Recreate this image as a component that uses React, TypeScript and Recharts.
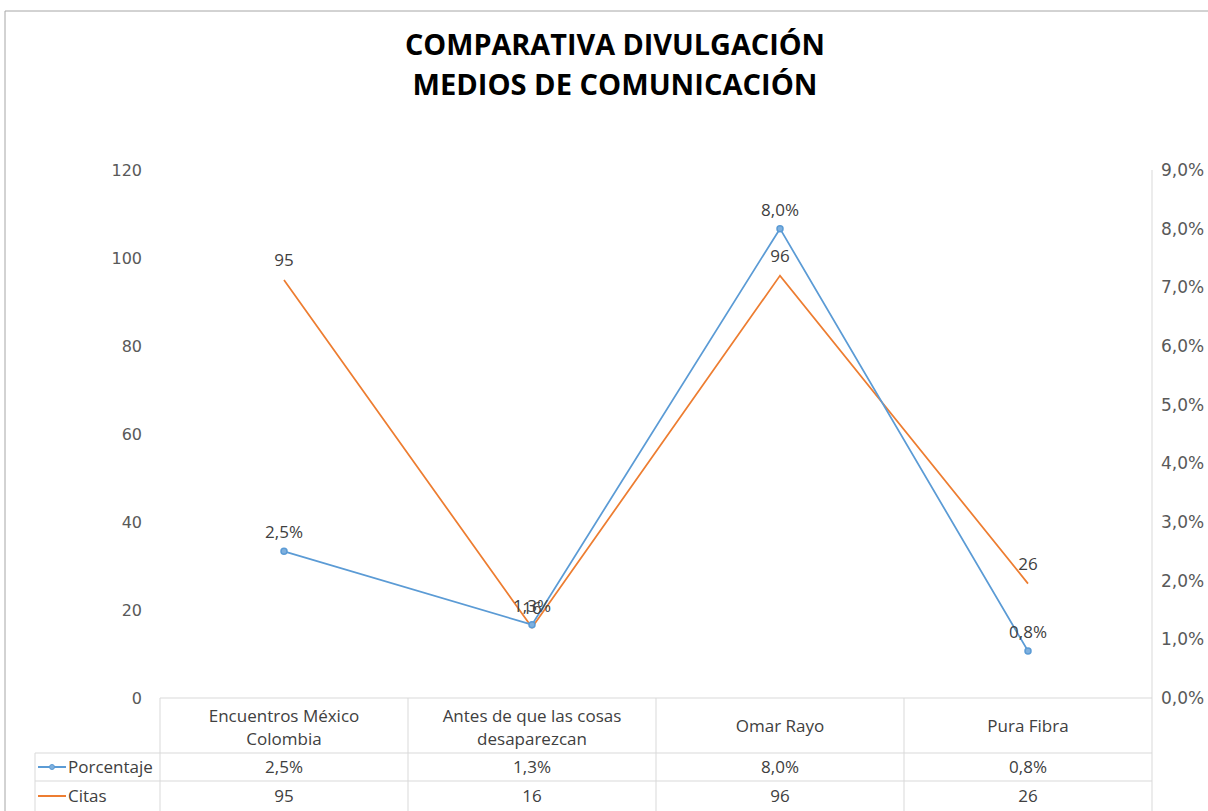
import React from "react";
import { LineChart, Line, XAxis, YAxis, LabelList } from "recharts";

const categories = [
  "Encuentros México Colombia",
  "Antes de que las cosas desaparezcan",
  "Omar Rayo",
  "Pura Fibra",
];
const porcentaje = [0.025, 0.0125, 0.08, 0.008];
const citas = [95, 16, 96, 26];
const leftTicks = [0, 20, 40, 60, 80, 100, 120];
const rightTicks = [0, 0.01, 0.02, 0.03, 0.04, 0.05, 0.06, 0.07, 0.08, 0.09];

const data = categories.map((name, i) => ({
  name,
  porcentaje: porcentaje[i],
  citas: citas[i],
}));

const W = 1208;
const H = 811;
const PLOT_L = 160;
const PLOT_R = 1152;
const BW = (PLOT_R - PLOT_L) / categories.length;
const BLUE = "#5b9bd5";
const ORANGE = "#ed7d31";
const GRID = "#d9d9d9";
const TXT = "#404040";
const FONT = "'Open Sans', sans-serif";
const CELL_FS = 17;

const fmtPct = (v: number) => (v * 100).toFixed(1).replace(".", ",") + "%";

// simple word wrap for the header cells
function wrap(s: string, max = 22) {
  const out: string[] = [];
  let cur = "";
  s.split(" ").forEach((w) => {
    if (cur && (cur + " " + w).length > max) {
      out.push(cur);
      cur = w;
    } else cur = cur ? cur + " " + w : w;
  });
  if (cur) out.push(cur);
  return out;
}

function TableTick(props: any) {
  const { x, y, index, payload } = props;
  const left = x - BW / 2;
  const right = x + BW / 2;
  const r1 = y + 55;
  const r2 = y + 83;
  const bottom = H;
  const lines = wrap(String(payload.value));
  const cell = { fontFamily: FONT, fontSize: CELL_FS, fill: TXT, textAnchor: "middle" as const };
  return (
    <g>
      {index === 0 && (
        <g>
          <line x1={left} y1={y} x2={left} y2={bottom} stroke={GRID} />
          <line x1={35} y1={r1} x2={left} y2={r1} stroke={GRID} />
          <line x1={35} y1={r2} x2={left} y2={r2} stroke={GRID} />
          <line x1={35} y1={r1} x2={35} y2={bottom} stroke={GRID} />
          <line x1={38} y1={r1 + 14} x2={66} y2={r1 + 14} stroke={BLUE} strokeWidth={2} />
          <circle cx={52} cy={r1 + 14} r={2.5} fill="#7fb0de" stroke={BLUE} />
          <text x={68} y={r1 + 20} fontFamily={FONT} fontSize={CELL_FS} fill={TXT}>
            Porcentaje
          </text>
          <line x1={38} y1={r2 + 15} x2={66} y2={r2 + 15} stroke={ORANGE} strokeWidth={2} />
          <text x={68} y={r2 + 21} fontFamily={FONT} fontSize={CELL_FS} fill={TXT}>
            Citas
          </text>
        </g>
      )}
      <line x1={right} y1={y} x2={right} y2={bottom} stroke={GRID} />
      <line x1={left} y1={r1} x2={right} y2={r1} stroke={GRID} />
      <line x1={left} y1={r2} x2={right} y2={r2} stroke={GRID} />
      {lines.length === 1 ? (
        <text x={x} y={y + 34} {...cell}>
          {lines[0]}
        </text>
      ) : (
        lines.map((l, i) => (
          <text key={i} x={x} y={y + 24 + i * 23} {...cell}>
            {l}
          </text>
        ))
      )}
      <text x={x} y={r1 + 20} {...cell}>
        {fmtPct(porcentaje[index])}
      </text>
      <text x={x} y={r2 + 21} {...cell}>
        {citas[index]}
      </text>
    </g>
  );
}

export default function App() {
  return (
    <div style={{ position: "absolute", left: 0, top: 0, width: W, height: H, background: "#fff", overflow: "hidden" }}>
      <LineChart
        width={W}
        height={H}
        data={data}
        margin={{ top: 170, right: 0, bottom: 0, left: 100 }}
      >
        <XAxis
          dataKey="name"
          height={113}
          tickSize={0}
          tickMargin={0}
          tickLine={false}
          axisLine={{ stroke: GRID }}
          tick={<TableTick />}
          interval={0}
          padding={{ left: BW / 2, right: BW / 2 }}
        />
        <YAxis
          yAxisId="left"
          width={60}
          domain={[0, 120]}
          ticks={leftTicks}
          axisLine={false}
          tickLine={false}
          tickSize={0}
          tickMargin={18}
          tick={{ fill: "#595959", fontSize: 16, fontFamily: "'DejaVu Sans', sans-serif" }}
        />
        <YAxis
          yAxisId="right"
          orientation="right"
          width={56}
          domain={[0, 0.09]}
          ticks={rightTicks}
          tickFormatter={fmtPct}
          axisLine={{ stroke: GRID }}
          tickLine={false}
          tickSize={0}
          tickMargin={9}
          tick={{ fill: "#595959", fontSize: 17, fontFamily: "'DejaVu Sans', sans-serif", textAnchor: "start" }}
        />
        <Line
          yAxisId="left"
          dataKey="citas"
          stroke={ORANGE}
          strokeWidth={1.75}
          dot={false}
          isAnimationActive={false}
        >
          <LabelList dataKey="citas" position="top" offset={14} fill={TXT} fontSize={17} fontFamily={FONT} />
        </Line>
        <Line
          yAxisId="right"
          dataKey="porcentaje"
          stroke={BLUE}
          strokeWidth={1.75}
          dot={{ r: 3, fill: "#7fb0de", stroke: BLUE, strokeWidth: 1.5 }}
          isAnimationActive={false}
        >
          <LabelList
            dataKey="porcentaje"
            position="top"
            offset={13}
            fill={TXT}
            fontSize={17}
            fontFamily={FONT}
            formatter={(v: any) => fmtPct(Number(v))}
          />
        </Line>
      </LineChart>
      <svg width={W} height={H} style={{ position: "absolute", left: 0, top: 0, pointerEvents: "none" }}>
        <line x1={5} y1={11} x2={W} y2={11} stroke="#a6a6a6" />
        <line x1={5} y1={11} x2={5} y2={H} stroke="#a6a6a6" />
        <text x={615} y={55} textAnchor="middle" fontFamily={FONT} fontWeight="bold" fontSize={28} fill="#000" textLength={420} lengthAdjust="spacingAndGlyphs">
          COMPARATIVA DIVULGACIÓN
        </text>
        <text x={615} y={95} textAnchor="middle" fontFamily={FONT} fontWeight="bold" fontSize={28} fill="#000" textLength={405} lengthAdjust="spacingAndGlyphs">
          MEDIOS DE COMUNICACIÓN
        </text>
      </svg>
    </div>
  );
}
